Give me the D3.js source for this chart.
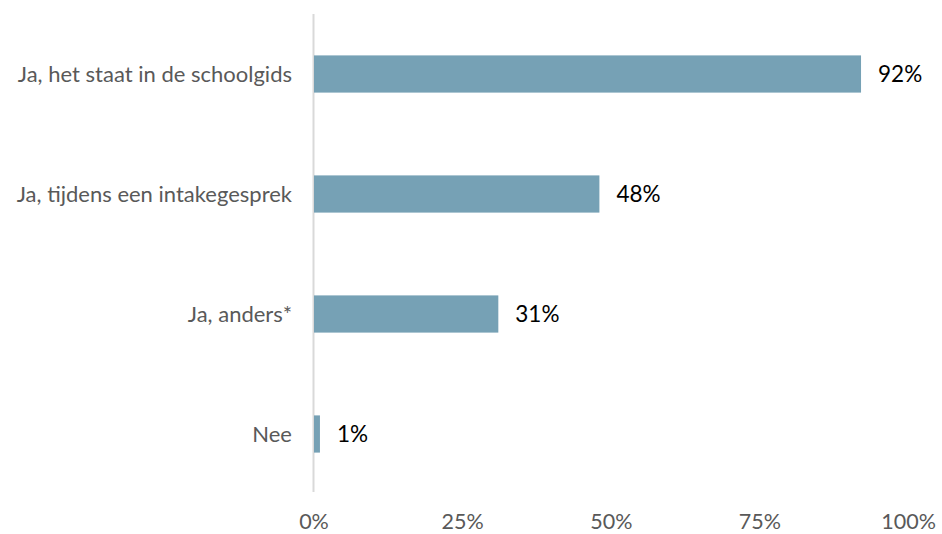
<!DOCTYPE html>
<html><head><meta charset="utf-8">
<script src="https://cdn.jsdelivr.net/npm/d3@7"></script>
<style>body{margin:0;background:#fff}svg{display:block}</style>
</head><body>
<script>
const categories = ["Ja, het staat in de schoolgids","Ja, tijdens een intakegesprek","Ja, anders*","Nee"];
const values = [92, 48, 31, 1];
const ticks = [0, 25, 50, 75, 100];

const W = 942, H = 534;
const svg = d3.select("body").append("svg").attr("width", W).attr("height", H);
const font = "Lato, 'Open Sans', sans-serif";
const x = d3.scaleLinear().domain([0, 100]).range([314, 908.6]);
const y = d3.scaleBand().domain(categories).range([14, 494]).paddingInner(0.69).paddingOuter(0.345);

svg.append("line").attr("x1", 313.5).attr("x2", 313.5).attr("y1", 14).attr("y2", 492)
  .attr("stroke", "#d9d9d9").attr("stroke-width", 2);

svg.selectAll("rect.bar").data(categories).enter().append("rect")
  .attr("x", x(0)).attr("y", d => y(d))
  .attr("width", (d,i) => x(values[i]) - x(0)).attr("height", y.bandwidth())
  .attr("fill", "#76a1b5");

svg.selectAll("text.val").data(categories).enter().append("text")
  .attr("x", (d,i) => x(values[i]) + 17).attr("y", d => y(d) + y.bandwidth()/2)
  .attr("dy", "0.36em").attr("font-family", font).attr("font-size", 22.5)
  .attr("fill", "#000").text((d,i) => values[i] + "%");

svg.selectAll("text.cat").data(categories).enter().append("text")
  .attr("x", 292).attr("y", d => y(d) + y.bandwidth()/2)
  .attr("dy", "0.36em").attr("text-anchor", "end").attr("font-family", font).attr("font-size", 22)
  .attr("fill", "#595959").text(d => d);

svg.selectAll("text.tick").data(ticks).enter().append("text")
  .attr("x", d => x(d)).attr("y", 529).attr("text-anchor", "middle")
  .attr("font-family", font).attr("font-size", 21.5).attr("fill", "#595959")
  .text(d => d + "%");
</script>
</body></html>
